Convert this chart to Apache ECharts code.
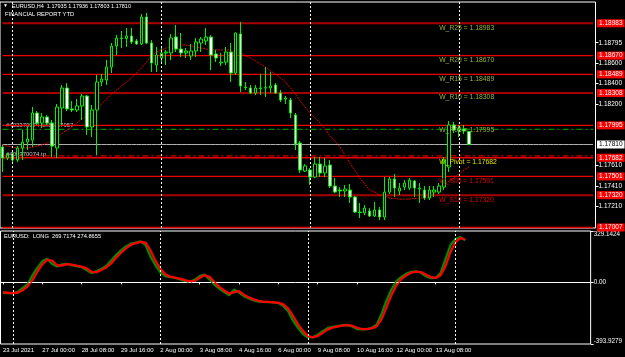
<!DOCTYPE html>
<html><head><meta charset="utf-8">
<script src="https://cdn.jsdelivr.net/npm/echarts@6/dist/echarts.min.js"></script>
<style>html,body{margin:0;padding:0;background:#000;}#c{width:625px;height:357px;}</style>
</head><body><div id="c"></div>
<script>
const opens = [1.17786,1.17679,1.17708,1.17660,1.17776,1.17834,1.17853,1.18115,1.18018,1.18076,
1.18018,1.17776,1.18163,1.18357,1.18154,1.18144,1.18183,1.18279,1.17979,1.18144,
1.18415,1.18434,1.18560,1.18763,1.18841,1.18836,1.18860,1.18812,1.18783,1.19044,
1.18792,1.18579,1.18647,1.18696,1.18696,1.18850,1.18734,1.18696,1.18667,1.18715,
1.18792,1.18812,1.18850,1.18686,1.18599,1.18608,1.18705,1.18502,1.18880,1.18366,
1.18357,1.18308,1.18357,1.18357,1.18357,1.18386,1.18308,1.18250,1.18241,1.18095,
1.17824,1.17553,1.17563,1.17495,1.17621,1.17534,1.17611,1.17408,1.17369,1.17360,
1.17369,1.17302,1.17156,1.17147,1.17166,1.17118,1.17176,1.17108,1.17350,1.17476,
1.17360,1.17398,1.17389,1.17457,1.17379,1.17369,1.17292,1.17350,1.17350,1.17398,
1.17592,1.17999,1.17950,1.17960,1.17935];
const closes = [1.17679,1.17708,1.17660,1.17776,1.17834,1.17863,1.18115,1.18018,1.18076,1.18018,
1.17795,1.18173,1.18357,1.18154,1.18144,1.18183,1.18279,1.17979,1.18144,1.18415,
1.18444,1.18560,1.18763,1.18841,1.18835,1.18860,1.18802,1.18783,1.19044,1.18792,
1.18599,1.18676,1.18696,1.18705,1.18841,1.18734,1.18696,1.18715,1.18715,1.18802,
1.18831,1.18850,1.18676,1.18647,1.18608,1.18705,1.18502,1.18889,1.18376,1.18362,
1.18308,1.18357,1.18352,1.18360,1.18376,1.18308,1.18241,1.18260,1.18115,1.17815,
1.17563,1.17602,1.17495,1.17621,1.17534,1.17602,1.17408,1.17350,1.17360,1.17379,
1.17302,1.17156,1.17152,1.17195,1.17118,1.17176,1.17108,1.17350,1.17476,1.17389,
1.17389,1.17437,1.17466,1.17389,1.17389,1.17292,1.17369,1.17369,1.17408,1.17660,
1.17999,1.17950,1.17960,1.17941,1.17810];
const highs = [1.17805,1.17728,1.17747,1.17795,1.17950,1.17979,1.18173,1.18134,1.18115,1.18095,
1.18047,1.18202,1.18386,1.18405,1.18231,1.18250,1.18299,1.18289,1.18192,1.18483,
1.18492,1.18628,1.18792,1.18870,1.18909,1.18938,1.18938,1.18831,1.19073,1.19083,
1.18821,1.18754,1.18744,1.18725,1.18880,1.18967,1.18889,1.18744,1.18783,1.18841,
1.18850,1.18938,1.18870,1.18725,1.18696,1.18754,1.18792,1.18895,1.18996,1.18415,
1.18386,1.18386,1.18492,1.18560,1.18512,1.18405,1.18337,1.18279,1.18260,1.18115,
1.17844,1.17621,1.17582,1.17689,1.17689,1.17679,1.17660,1.17486,1.17398,1.17418,
1.17428,1.17311,1.17244,1.17224,1.17195,1.17253,1.17205,1.17495,1.17495,1.17524,
1.17437,1.17466,1.17486,1.17466,1.17437,1.17408,1.17408,1.17408,1.17437,1.17689,
1.18037,1.18028,1.17999,1.17999,1.17936];
const lows = [1.17544,1.17660,1.17631,1.17640,1.17660,1.17757,1.17786,1.17999,1.17970,1.17999,
1.17689,1.17679,1.17999,1.18134,1.18124,1.18124,1.18047,1.17902,1.17882,1.17708,
1.18376,1.18386,1.18502,1.18676,1.18744,1.18754,1.18783,1.18773,1.18773,1.18783,
1.18512,1.18512,1.18608,1.18579,1.18628,1.18705,1.18657,1.18647,1.18628,1.18657,
1.18705,1.18773,1.18531,1.18608,1.18570,1.18579,1.18415,1.18483,1.18318,1.18337,
1.18299,1.18289,1.18289,1.18270,1.18308,1.18299,1.18221,1.18202,1.18066,1.17757,
1.17534,1.17544,1.17418,1.17486,1.17495,1.17495,1.17389,1.17340,1.17302,1.17302,
1.17244,1.17147,1.17098,1.17127,1.17108,1.17108,1.17079,1.17079,1.17331,1.17302,
1.17321,1.17369,1.17369,1.17302,1.17244,1.17273,1.17273,1.17302,1.17331,1.17369,
1.17544,1.17921,1.17882,1.17912,1.17803];
const maValues = [1.17805,1.17795,1.17786,1.17776,1.17776,1.17781,1.17786,1.17795,1.17805,1.17824,
1.17844,1.17882,1.17921,1.17950,1.17979,1.18018,1.18057,1.18086,1.18124,1.18163,
1.18202,1.18250,1.18299,1.18337,1.18376,1.18415,1.18454,1.18502,1.18550,1.18608,
1.18667,1.18705,1.18725,1.18744,1.18763,1.18773,1.18773,1.18773,1.18763,1.18754,
1.18744,1.18734,1.18734,1.18725,1.18725,1.18725,1.18725,1.18705,1.18696,1.18667,
1.18647,1.18618,1.18589,1.18560,1.18521,1.18492,1.18454,1.18415,1.18357,1.18299,
1.18231,1.18173,1.18115,1.18066,1.18018,1.17960,1.17892,1.17844,1.17786,1.17708,
1.17631,1.17563,1.17486,1.17428,1.17369,1.17350,1.17321,1.17311,1.17292,1.17287,
1.17282,1.17282,1.17282,1.17287,1.17292,1.17292,1.17302,1.17331,1.17379,1.17418,
1.17457,1.17486,1.17524,1.17563,1.17592];
const oscGreen = [-66,-68,-70,-60,-35,-12,45,95,135,152,
118,102,115,118,110,104,98,80,60,72,
88,105,140,175,205,230,248,255,262,240,
165,110,65,40,34,29,20,10,4,18,
40,50,20,-15,-40,-62,-82,-45,-65,-88,
-102,-115,-122,-125,-126,-128,-132,-150,-185,-245,
-290,-330,-352,-350,-335,-312,-293,-285,-280,-274,
-272,-282,-298,-300,-298,-290,-270,-200,-115,-45,
8,35,55,68,70,62,40,28,30,62,
150,239,278,290,269.7174];
const oscRed = [-64,-66,-69,-66,-50,-25,15,70,115,145,
140,110,108,117,114,107,101,90,68,65,
80,96,122,158,190,218,240,252,259,254,
205,138,88,52,37,31,25,15,7,10,
30,46,36,2,-28,-52,-72,-62,-56,-78,
-96,-108,-118,-124,-125,-127,-130,-140,-168,-215,
-268,-310,-342,-352,-343,-323,-302,-289,-282,-277,
-273,-277,-290,-299,-299,-294,-280,-235,-158,-80,
-18,22,45,62,69,66,51,34,29,46,
106,195,258,284,274.8655];
const xTickBars = [0,8,16,24,32,40,48,56,64,72,80,88];
const xTickLabels = ['23 Jul 2021','27 Jul 00:00','28 Jul 08:00','29 Jul 16:00','2 Aug 00:00','3 Aug 08:00','4 Aug 16:00','6 Aug 00:00','9 Aug 08:00','10 Aug 16:00','12 Aug 00:00','13 Aug 08:00'];
const weekStartBars = [2,32,62,92];
const priceTicks = [1.18795,1.18600,1.18400,1.18200,1.17610,1.17410,1.17210];
const levelNames = ['W_R25','W_R20','W_R15','W_R10','W_R05','W_Pivot','W_S05','W_S10','W_S15'];
const levelValues = [1.18983,1.18670,1.18489,1.18308,1.17995,1.17682,1.17501,1.17320,1.17007];
const levelLabelBar = 88;
const bidPrice = 1.17810;
const orderOpen = 1.17957;
const orderTP = 1.17700;
const oscTicks = [329.1424,0,-393.9279];
const priceMin = 1.17002, priceMax = 1.19189;
const oscMin = -393.9279, oscMax = 329.1424;
const totalSlots = 120;

const FONT = "'Liberation Sans',Arial,sans-serif";
const cats = Array.from({length: totalSlots}, (_, i) => String(i));
const darkLevels = {W_R25:1, W_R10:1, W_S10:1};
function levelTextColor(n){ if(n==='W_Pivot') return '#e0e000'; if(n.indexOf('W_S')===0) return '#e00000'; return '#96b43c'; }
const sepLine = {color:'#ffffff', width:1, type:[2,2]};

function hLine(value, lineStyle, boxBg, boxFg, z){
  return {type:'line', xAxisIndex:0, yAxisIndex:0, data: cats.map(() => value), symbol:'none', silent:true, z: z,
    lineStyle: lineStyle,
    endLabel: boxBg ? {show:true, distance:4, formatter: value.toFixed(5), color: boxFg, backgroundColor: boxBg, padding:[1,2,0,2], fontSize:6.5, fontFamily:FONT} : {show:false}};
}

const levelSeries = levelValues.map((v, i) => hLine(v,
  {color: darkLevels[levelNames[i]] ? '#a80000' : '#f00000', width: darkLevels[levelNames[i]] ? 2 : 1.3, type:'solid'},
  '#ff0000', '#ffffff', 1));
levelSeries.push(hLine(orderOpen, {color:'#00b000', width:1, type:[6,3,2,3]}, null, null, 1));
levelSeries.push(hLine(orderTP, {color:'#ff0000', width:1, type:[6,3,2,3]}, null, null, 1));
levelSeries.push(hLine(bidPrice, {color:'#b0b0b0', width:1, type:'solid'}, '#ffffff', '#000000', 1));

const levelTexts = levelNames.slice(0, 8).map((n, i) => ({
  coord: [String(levelLabelBar), levelValues[i]],
  symbol:'circle', symbolSize:0,
  label: {show:true, position:[0, 1], formatter: n + ' = ' + levelValues[i].toFixed(5), color: levelTextColor(n), fontSize:6.8, fontFamily:FONT}
}));

const chart = echarts.init(document.getElementById('c'), null, {renderer:'canvas'});
const option = {
  backgroundColor:'#000',
  animation:false,
  grid:[
    {left:0, top:2, width:597, height:226, show:true, borderColor:'#ffffff', borderWidth:1, backgroundColor:'#000'},
    {left:0, top:231, width:597, height:113, show:true, borderColor:'#ffffff', borderWidth:1, backgroundColor:'#000'}
  ],
  xAxis:[
    {type:'category', gridIndex:0, data:cats, boundaryGap:true, axisLine:{show:false}, axisTick:{show:false}, axisLabel:{show:false}, splitLine:{show:false}},
    {type:'category', gridIndex:1, data:cats, boundaryGap:true,
     axisLine:{show:true, lineStyle:{color:'#ffffff'}},
     axisTick:{show:true, alignWithLabel:true, interval:(i)=>xTickBars.indexOf(i)>=0, length:2, lineStyle:{color:'#ffffff'}},
     axisLabel:{show:true, interval:(i)=>xTickBars.indexOf(i)>=0, formatter:(v,i)=>xTickLabels[xTickBars.indexOf(i)] || '', align:'left', color:'#ffffff', fontSize:6, fontFamily:FONT, margin:3},
     splitLine:{show:false}}
  ],
  yAxis:[
    {type:'value', gridIndex:0, position:'right', min:priceMin, max:priceMax, splitLine:{show:false}, axisLine:{show:false},
     axisTick:{show:true, customValues:priceTicks, length:3, lineStyle:{color:'#ffffff'}},
     axisLabel:{show:true, customValues:priceTicks, formatter:(v)=>v.toFixed(5), color:'#ffffff', fontSize:6.5, fontFamily:FONT, margin:3}},
    {type:'value', gridIndex:1, position:'right', min:oscMin, max:oscMax, splitLine:{show:false}, axisLine:{show:false},
     axisTick:{show:true, customValues:oscTicks, length:3, lineStyle:{color:'#ffffff'}},
     axisLabel:{show:true, customValues:oscTicks, formatter:(v)=> v===0 ? '0.00' : v.toFixed(4), color:'#ffffff', fontSize:6.3, fontFamily:FONT, margin:3,
       verticalAlignMaxLabel:'bottom', verticalAlignMinLabel:'top'}}
  ],
  graphic:[
    {type:'text', left:3, top:3, z:0, style:{text:'\u25BC', fill:'#ffffff', fontSize:5, fontFamily:FONT}},
    {type:'text', left:12, top:3, z:0, style:{text:'EURUSD,H4  1.17935 1.17936 1.17803 1.17810', fill:'#ffffff', fontSize:5.5, fontFamily:FONT}},
    {type:'text', left:5, top:11, z:0, style:{text:'FINANCIAL REPORT YTD', fill:'#ffffff', fontSize:5.8, fontFamily:FONT}},
    {type:'text', left:4, top:233, z:0, style:{text:'EURUSD:  LONG  269.7174 274.8655', fill:'#ffffff', fontSize:5.7, fontFamily:FONT}},
    {type:'text', left:6, top:122, z:0, style:{text:'#403370074 sell 1.17957', fill:'#c8c8c8', fontSize:6, fontFamily:FONT}},
    {type:'text', left:6, top:151, z:0, style:{text:'#403370074 tp', fill:'#c8c8c8', fontSize:6, fontFamily:FONT}}
  ],
  series: levelSeries.concat([
    {name:'MA', type:'line', xAxisIndex:0, yAxisIndex:0, data:maValues, symbol:'none', z:2,
     lineStyle:{color:'#e00000', width:1, type:[2,1]},
     markLine:{silent:true, symbol:'none', animation:false, label:{show:false},
       data: weekStartBars.map(b => ({xAxis:String(b), lineStyle:sepLine}))},
     markPoint:{silent:true, animation:false, data:levelTexts}},
    {name:'EURUSD,H4', type:'candlestick', xAxisIndex:0, yAxisIndex:0, z:3, barWidth:3,
     data: opens.map((o, i) => [o, closes[i], lows[i], highs[i]]),
     itemStyle:{color:'#000000', color0:'#ffffff', borderColor:'#00f000', borderColor0:'#00f000', borderWidth:1}},
    {name:'green', type:'line', xAxisIndex:1, yAxisIndex:1, data:oscGreen, symbol:'none', z:2,
     lineStyle:{color:'#008a00', width:2.3},
     markLine:{silent:true, symbol:'none', animation:false, label:{show:false},
       data:[{yAxis:0, lineStyle:sepLine}].concat(weekStartBars.map(b => ({xAxis:String(b), lineStyle:sepLine})))}},
    {name:'red', type:'line', xAxisIndex:1, yAxisIndex:1, data:oscRed, symbol:'none', z:3,
     lineStyle:{color:'#ff0000', width:2.3}}
  ])
};
chart.setOption(option);
</script></body></html>
